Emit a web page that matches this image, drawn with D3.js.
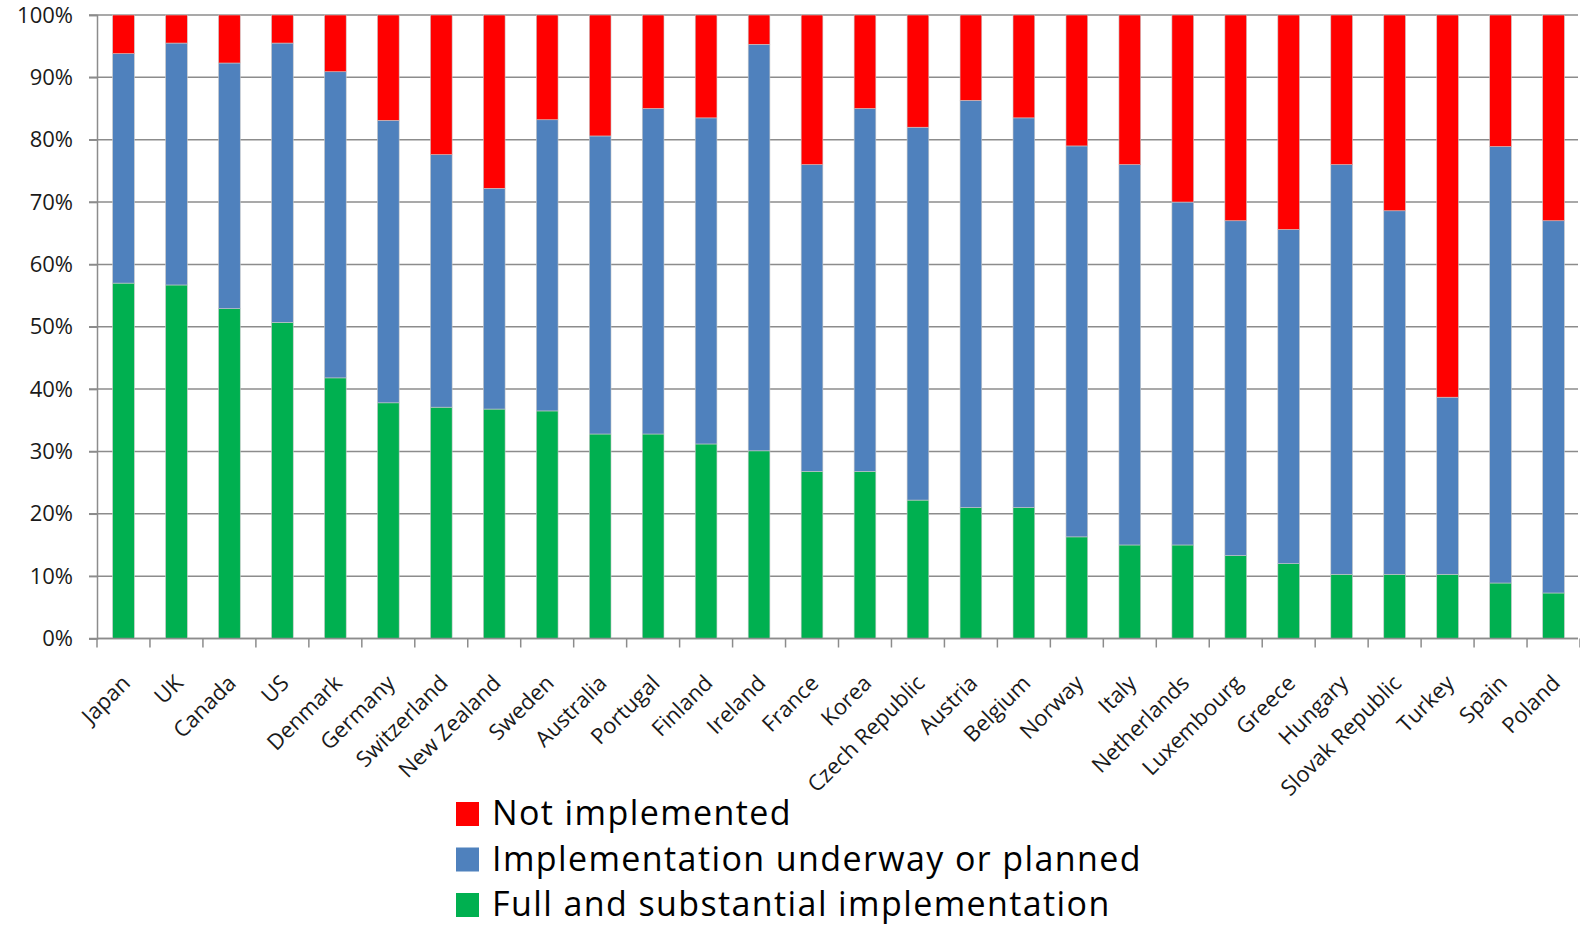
<!DOCTYPE html>
<html>
<head>
<meta charset="utf-8">
<script src="https://cdn.jsdelivr.net/npm/d3@7"></script>
<style>
  body { margin: 0; background: #fff; }
  svg { display: block; font-family: "Open Sans", Lato, sans-serif; }
</style>
</head>
<body>
<svg id="chart"></svg>
<script>
const width = 1580, height = 925;

// Data (percent of recommendations)
const countries = ['Japan', 'UK', 'Canada', 'US', 'Denmark', 'Germany', 'Switzerland', 'New Zealand',
  'Sweden', 'Australia', 'Portugal', 'Finland', 'Ireland', 'France', 'Korea', 'Czech Republic',
  'Austria', 'Belgium', 'Norway', 'Italy', 'Netherlands', 'Luxembourg', 'Greece', 'Hungary',
  'Slovak Republic', 'Turkey', 'Spain', 'Poland'];
const fullImpl = [57, 56.7, 52.9, 50.7, 41.8, 37.8, 37.1, 36.8, 36.5, 32.8, 32.8, 31.2, 30.1, 26.8,
  26.8, 22.2, 21, 21, 16.3, 15, 15, 13.3, 12, 10.3, 10.3, 10.3, 8.9, 7.3];
const underway = [36.8, 38.8, 39.4, 44.8, 49.1, 45.3, 40.5, 35.4, 46.7, 47.8, 52.2, 52.3, 65.2, 49.2,
  58.2, 59.8, 65.3, 62.5, 62.7, 61, 55, 53.7, 53.6, 65.7, 58.3, 28.4, 70, 59.7];
const notImpl = [6.2, 4.5, 7.7, 4.5, 9.1, 16.9, 22.4, 27.8, 16.8, 19.4, 15, 16.5, 4.7, 24,
  15, 18, 13.7, 16.5, 21, 24, 30, 33, 34.4, 24, 31.4, 61.3, 21.1, 33];
const yTicks = [0, 10, 20, 30, 40, 50, 60, 70, 80, 90, 100];

const series = [
  { key: 'full', label: 'Full and substantial implementation', color: '#00B050', values: fullImpl },
  { key: 'underway', label: 'Implementation underway or planned', color: '#4F81BD', values: underway },
  { key: 'not', label: 'Not implemented', color: '#FF0000', values: notImpl }
];

const rows = countries.map((c, i) => {
  const r = { country: c };
  series.forEach(s => { r[s.key] = s.values[i]; });
  return r;
});

const margin = { left: 97, right: 0, top: 15, bottom: 286 };

const svg = d3.select('#chart').attr('width', width).attr('height', height);

const x = d3.scaleBand().domain(countries)
  .range([margin.left, width - margin.right]).paddingInner(0.59).paddingOuter(0.295);
const y = d3.scaleLinear().domain([0, 100]).range([height - margin.bottom - 0.5, margin.top]);

// Gridlines
svg.append('g')
  .selectAll('line')
  .data(yTicks)
  .enter()
  .append('line')
  .attr('x1', margin.left - 8)
  .attr('x2', width - 2)
  .attr('y1', d => y(d))
  .attr('y2', d => y(d))
  .attr('stroke', '#8c8c8c')
  .attr('stroke-width', 1.5);

// Stacked bars
const stacked = d3.stack().keys(series.map(s => s.key))(rows);

svg.append('g')
  .selectAll('g')
  .data(stacked)
  .enter()
  .append('g')
  .attr('fill', (_, i) => series[i].color)
  .selectAll('rect')
  .data(d => d)
  .enter()
  .append('rect')
  .attr('x', d => x(d.data.country))
  .attr('width', x.bandwidth())
  .attr('y', d => y(d[1]))
  .attr('height', d => y(d[0]) - y(d[1]))
  .attr('stroke', '#c8c8c8')
  .attr('stroke-width', 0.6);

// Y axis
const yAxis = svg.append('g')
  .attr('transform', `translate(${margin.left},0)`)
  .call(d3.axisLeft(y).tickValues(yTicks).tickFormat(d => d + '%').tickSize(8).tickPadding(16));
yAxis.select('.domain').attr('stroke', '#8c8c8c').attr('stroke-width', 1.5);
yAxis.selectAll('.tick line').attr('stroke', '#8c8c8c').attr('stroke-width', 1.5);
yAxis.selectAll('.tick text').attr('font-size', 22).attr('fill', '#1a1a1a')
  .attr('font-family', '"Open Sans", sans-serif');

// X axis: ticks sit on the boundaries between categories
const step = x.step();
const bounds = d3.range(countries.length + 1).map(i => margin.left + i * step);
const xg = svg.append('g');
xg.append('line')
  .attr('x1', margin.left).attr('x2', width - 2)
  .attr('y1', y(0)).attr('y2', y(0))
  .attr('stroke', '#8c8c8c').attr('stroke-width', 1.5);
xg.selectAll('.xtick')
  .data(bounds)
  .enter()
  .append('line')
  .attr('class', 'xtick')
  .attr('x1', d => d).attr('x2', d => d)
  .attr('y1', y(0)).attr('y2', y(0) + 9)
  .attr('stroke', '#8c8c8c').attr('stroke-width', 1.5);

xg.selectAll('.xlabel')
  .data(countries)
  .enter()
  .append('text')
  .attr('class', 'xlabel')
  .attr('text-anchor', 'end')
  .attr('font-size', 22)
  .attr('fill', '#1a1a1a')
  .attr('transform', d => `translate(${x(d) + x.bandwidth() / 2 + 8},${y(0) + 46}) rotate(-45)`)
  .text(d => d);

// Legend (red on top, green at bottom)
const legend = svg.append('g')
  .selectAll('g')
  .data(series.slice().reverse())
  .enter()
  .append('g')
  .attr('transform', (_, i) => `translate(456,${802 + i * 45.5})`);

legend.append('rect')
  .attr('width', 23).attr('height', 24)
  .attr('fill', d => d.color);

legend.append('text')
  .attr('x', 36)
  .attr('y', 23)
  .attr('font-size', 34)
  .attr('letter-spacing', 1.4)
  .attr('fill', '#000')
  .text(d => d.label);
</script>
</body>
</html>
